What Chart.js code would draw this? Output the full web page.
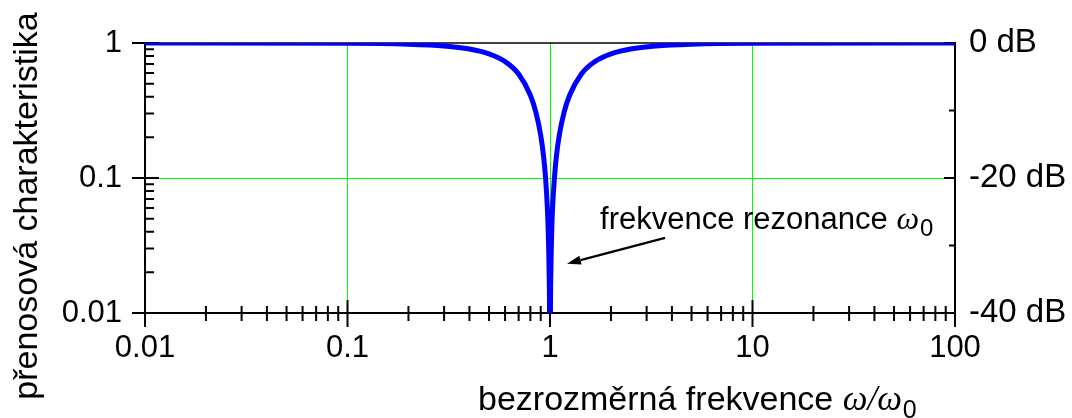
<!DOCTYPE html>
<html>
<head>
<meta charset="utf-8">
<script src="https://cdn.jsdelivr.net/npm/chart.js@4/dist/chart.umd.min.js"></script>
<style>
html,body{margin:0;padding:0;background:#fff;}
#wrap{width:1072px;height:418px;}
</style>
</head>
<body>
<div id="wrap"><canvas id="c" width="1072" height="418"></canvas></div>
<script>
// ---- data ----
const freqRatio = [0.01, 0.1, 0.2, 0.3, 0.4, 0.5, 0.6, 0.7, 0.8, 0.85, 0.9, 0.93, 0.95, 0.97, 0.98, 0.99, 0.995, 1.0,
                   1.005, 1.01, 1.02, 1.03, 1.053, 1.075, 1.111, 1.176, 1.25, 1.429, 1.667, 2, 2.5, 3.33, 5, 10, 100];
const transfer  = [1.0, 0.995, 0.979, 0.95, 0.903, 0.832, 0.729, 0.589, 0.41, 0.31, 0.207, 0.144, 0.102, 0.0608, 0.0404, 0.0201, 0.01, 0.001,
                   0.01, 0.0201, 0.0404, 0.0608, 0.102, 0.144, 0.207, 0.31, 0.41, 0.589, 0.729, 0.832, 0.903, 0.95, 0.979, 0.995, 1.0];
const xMajorTicks = [0.01, 0.1, 1, 10, 100];
const xMinorMult = [2, 3, 4, 5, 6, 7, 8, 9];
const yMajorTicks = [0.01, 0.1, 1];
const dbTicks = [0, -20, -40];
const dbMinorTicks = [-10, -30];
const xGridValues = [0.1, 1, 10];
const yGridValues = [0.1];
// annotation (data coordinates): text anchor and arrow
const annotText = "frekvence rezonance ";
const annotAt = [1.766, 0.0419];
const arrowFrom = [3.70, 0.036];
const arrowTo = [1.213, 0.0232];
const xTitle = "bezrozměrná frekvence ";
const yTitle = "přenosová charakteristika";

const SANS = '"Liberation Sans", Arial, sans-serif';
const SERIF = '"Liberation Serif", "Times New Roman", serif';

const axesPlugin = {
  id: 'axesPlugin',
  beforeDatasetsDraw(chart) {
    const ctx = chart.ctx;
    const xs = chart.scales.x, ys = chart.scales.y, y2 = chart.scales.y2;
    const a = chart.chartArea;
    ctx.save();
    ctx.strokeStyle = '#000';
    ctx.lineCap = 'butt';
    // frame
    ctx.lineWidth = 1.3;
    ctx.beginPath(); ctx.moveTo(a.left, a.top); ctx.lineTo(a.right, a.top); ctx.stroke();
    ctx.lineWidth = 2;
    ctx.beginPath();
    ctx.moveTo(a.left, a.top - 1); ctx.lineTo(a.left, a.bottom + 1);
    ctx.moveTo(a.left - 1, a.bottom); ctx.lineTo(a.right + 1, a.bottom);
    ctx.moveTo(a.right, a.top - 1); ctx.lineTo(a.right, a.bottom + 1);
    ctx.stroke();
    // x ticks
    ctx.lineWidth = 2;
    ctx.beginPath();
    xMajorTicks.forEach(v => {
      const px = xs.getPixelForValue(v);
      ctx.moveTo(px, a.bottom - 13); ctx.lineTo(px, a.bottom + 14);
    });
    for (let i = 0; i < xMajorTicks.length - 1; i++) {
      xMinorMult.forEach(m => {
        const px = xs.getPixelForValue(xMajorTicks[i] * m);
        ctx.moveTo(px, a.bottom - 7); ctx.lineTo(px, a.bottom + 8);
      });
    }
    // left y ticks
    yMajorTicks.forEach(v => {
      const py = ys.getPixelForValue(v);
      ctx.moveTo(a.left - 13, py); ctx.lineTo(a.left + 14, py);
    });
    for (let i = 0; i < yMajorTicks.length - 1; i++) {
      xMinorMult.forEach(m => {
        const py = ys.getPixelForValue(yMajorTicks[i] * m);
        ctx.moveTo(a.left, py); ctx.lineTo(a.left + 9, py);
      });
    }
    // right dB ticks
    dbTicks.forEach(v => {
      const py = y2.getPixelForValue(v);
      ctx.moveTo(a.right - 11, py); ctx.lineTo(a.right, py);
    });
    dbMinorTicks.forEach(v => {
      const py = y2.getPixelForValue(v);
      ctx.moveTo(a.right - 6, py); ctx.lineTo(a.right, py);
    });
    ctx.stroke();
    ctx.restore();
  },
  afterDraw(chart) {
    const ctx = chart.ctx;
    const xs = chart.scales.x, ys = chart.scales.y;
    ctx.save();
    ctx.fillStyle = '#000';
    // y title
    ctx.save();
    ctx.translate(37, 206);
    ctx.rotate(-Math.PI / 2);
    ctx.font = '34px ' + SANS;
    ctx.textAlign = 'center';
    ctx.textBaseline = 'alphabetic';
    ctx.fillText(yTitle, 0, 0);
    ctx.restore();
    // x title
    ctx.textAlign = 'left';
    ctx.textBaseline = 'alphabetic';
    let x = 478, base = 410;
    ctx.font = '34px ' + SANS;
    ctx.fillText(xTitle, x, base); x += ctx.measureText(xTitle).width;
    ctx.font = 'italic 35px ' + SERIF;
    ctx.fillText('ω/ω', x, base); x += ctx.measureText('ω/ω').width;
    ctx.font = '25px ' + SANS;
    ctx.fillText('0', x + 1, base + 8);
    // annotation text
    x = xs.getPixelForValue(annotAt[0]); base = ys.getPixelForValue(annotAt[1]);
    ctx.font = '31px ' + SANS;
    ctx.fillText(annotText, x, base); x += ctx.measureText(annotText).width;
    ctx.font = 'italic 32px ' + SERIF;
    ctx.fillText('ω', x, base); x += ctx.measureText('ω').width;
    ctx.font = '24px ' + SANS;
    ctx.fillText('0', x + 1, base + 7);
    // arrow
    const x0 = xs.getPixelForValue(arrowFrom[0]), y0 = ys.getPixelForValue(arrowFrom[1]);
    const x1 = xs.getPixelForValue(arrowTo[0]), y1 = ys.getPixelForValue(arrowTo[1]);
    const ang = Math.atan2(y1 - y0, x1 - x0);
    const hl = 14, hw = 4.5;
    const bx = x1 - hl * Math.cos(ang), by = y1 - hl * Math.sin(ang);
    ctx.strokeStyle = '#000'; ctx.lineWidth = 2.2;
    ctx.beginPath(); ctx.moveTo(x0, y0); ctx.lineTo(bx, by); ctx.stroke();
    ctx.beginPath();
    ctx.moveTo(x1, y1);
    ctx.lineTo(bx + hw * Math.sin(ang), by - hw * Math.cos(ang));
    ctx.lineTo(bx - hw * Math.sin(ang), by + hw * Math.cos(ang));
    ctx.closePath(); ctx.fill();
    ctx.restore();
  }
};

const points = freqRatio.map((f, i) => ({x: f, y: transfer[i]}));

new Chart(document.getElementById('c'), {
  type: 'line',
  data: {
    datasets: [{
      data: points,
      borderColor: '#0000ff',
      borderWidth: 5,
      pointRadius: 0,
      fill: false,
      cubicInterpolationMode: 'monotone',
      yAxisID: 'y'
    }]
  },
  options: {
    responsive: false,
    animation: false,
    devicePixelRatio: 1,
    layout: {padding: {top: 43, left: 0, right: 0, bottom: 0}},
    plugins: {legend: {display: false}, tooltip: {enabled: false}},
    scales: {
      x: {
        type: 'logarithmic', min: 0.01, max: 100,
        afterFit(s) { s.height = 105; },
        afterBuildTicks(s) { s.ticks = xMajorTicks.map(v => ({value: v})); },
        grid: {
          drawTicks: false,
          color: c => (c.tick && xGridValues.includes(c.tick.value)) ? '#00ff00' : 'rgba(0,0,0,0)',
          lineWidth: 1
        },
        border: {display: false},
        ticks: {
          autoSkip: false, maxRotation: 0, padding: 17, color: '#000',
          font: {family: SANS, size: 31},
          callback: v => String(v)
        }
      },
      y: {
        type: 'logarithmic', min: 0.01, max: 1, position: 'left',
        afterFit(s) { s.width = 145; },
        afterBuildTicks(s) { s.ticks = yMajorTicks.map(v => ({value: v})); },
        grid: {
          drawTicks: false,
          color: c => (c.tick && yGridValues.includes(c.tick.value)) ? '#00ff00' : 'rgba(0,0,0,0)',
          lineWidth: 1
        },
        border: {display: false},
        ticks: {
          autoSkip: false, padding: 23, color: '#000',
          font: {family: SANS, size: 31},
          callback: v => String(v)
        }
      },
      y2: {
        type: 'linear', min: -40, max: 0, position: 'right',
        afterFit(s) { s.width = 117; },
        afterBuildTicks(s) { s.ticks = dbTicks.map(v => ({value: v})); },
        grid: {display: false, drawTicks: false},
        border: {display: false},
        ticks: {
          autoSkip: false, padding: 14, color: '#000',
          font: {family: SANS, size: 33},
          callback: v => v + ' dB'
        }
      }
    }
  },
  plugins: [axesPlugin]
});
</script>
</body>
</html>
